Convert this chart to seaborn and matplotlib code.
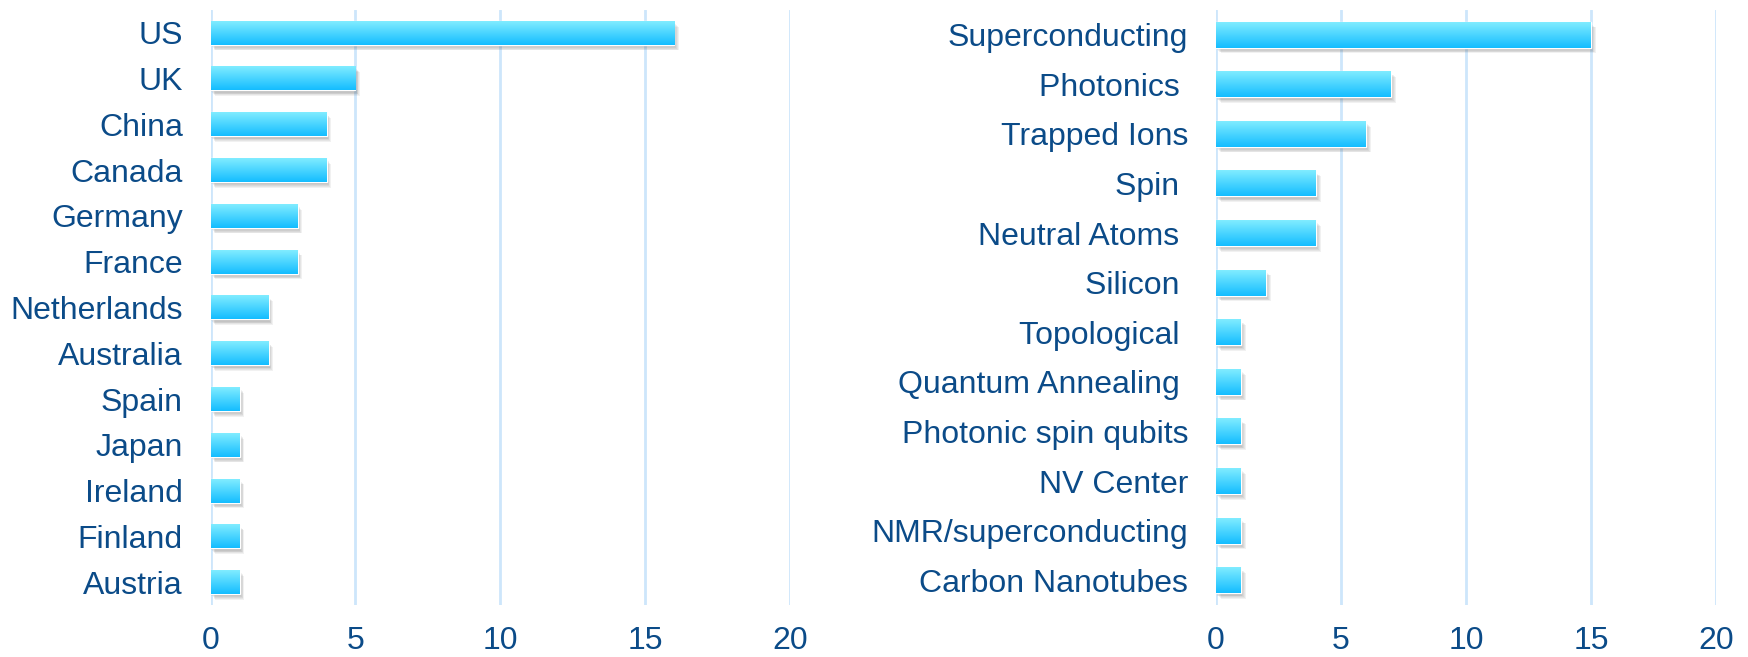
import numpy as np
import pandas as pd
import matplotlib
matplotlib.use("Agg")
import matplotlib.pyplot as plt
import matplotlib.patheffects as pe
import seaborn as sns

# datos
countries = ['US', 'UK', 'China', 'Canada', 'Germany', 'France', 'Netherlands',
             'Australia', 'Spain', 'Japan', 'Ireland', 'Finland', 'Austria']
country_counts = [16, 5, 4, 4, 3, 3, 2, 2, 1, 1, 1, 1, 1]

technologies = ['Superconducting', 'Photonics ', 'Trapped Ions', 'Spin ', 'Neutral Atoms ',
                'Silicon ', 'Topological ', 'Quantum Annealing ', 'Photonic spin qubits',
                'NV Center', 'NMR/superconducting', 'Carbon Nanotubes']
tech_counts = [15, 7, 6, 4, 4, 2, 1, 1, 1, 1, 1, 1]

x_ticks = [0, 5, 10, 15, 20]

text_color = '#0B4B88'
grid_color = '#CDE6FB'

sns.set_style("white")
plt.rcParams['font.family'] = ['Liberation Sans', 'DejaVu Sans']

fig = plt.figure(figsize=(17.48, 6.57), dpi=100)
ax1 = fig.add_axes([0.1205, 0.079, 0.3315, 0.906])
ax2 = fig.add_axes([0.6957, 0.079, 0.286, 0.906])

grad = np.linspace(0, 1, 64).reshape(-1, 1)
cmap = matplotlib.colors.LinearSegmentedColormap.from_list('bar', ['#80ECFF', '#14BDFF'])

# sombra difusa con varias capas
shadow = [pe.SimplePatchShadow(offset=(o, -o - 0.8), shadow_rgbFace='#444444', alpha=0.07)
          for o in (0.3, 0.9, 1.5, 2.1, 2.7, 3.3)]


def draw_panel(ax, labels, values):
    df = pd.DataFrame({'label': labels, 'value': values})
    sns.barplot(data=df, x='value', y='label', orient='h', ax=ax, color='#3CCBFF',
                width=0.52, zorder=3)
    for p in ax.patches:
        p.set_path_effects(shadow + [pe.Normal()])
        x0, y0 = p.get_x(), p.get_y()
        w, h = p.get_width(), p.get_height()
        ax.imshow(grad, cmap=cmap, aspect='auto', origin='upper',
                  extent=(x0, x0 + w, y0 + h, y0), zorder=4)
    ax.set_xlim(0, 20)
    ax.set_ylim(len(labels) - 0.5, -0.5)
    ax.set_xticks(x_ticks)
    ax.grid(axis='x', color=grid_color, linewidth=2, zorder=0)
    ax.grid(axis='y', visible=False)
    for s in ax.spines.values():
        s.set_visible(False)
    ax.set_xlabel('')
    ax.set_ylabel('')
    ax.tick_params(axis='y', length=0, pad=20, labelsize=23, labelcolor=text_color)
    ax.tick_params(axis='x', length=0, pad=15, labelsize=23, labelcolor=text_color)


draw_panel(ax1, countries, country_counts)
draw_panel(ax2, technologies, tech_counts)

fig.savefig('out.png', dpi=100)
